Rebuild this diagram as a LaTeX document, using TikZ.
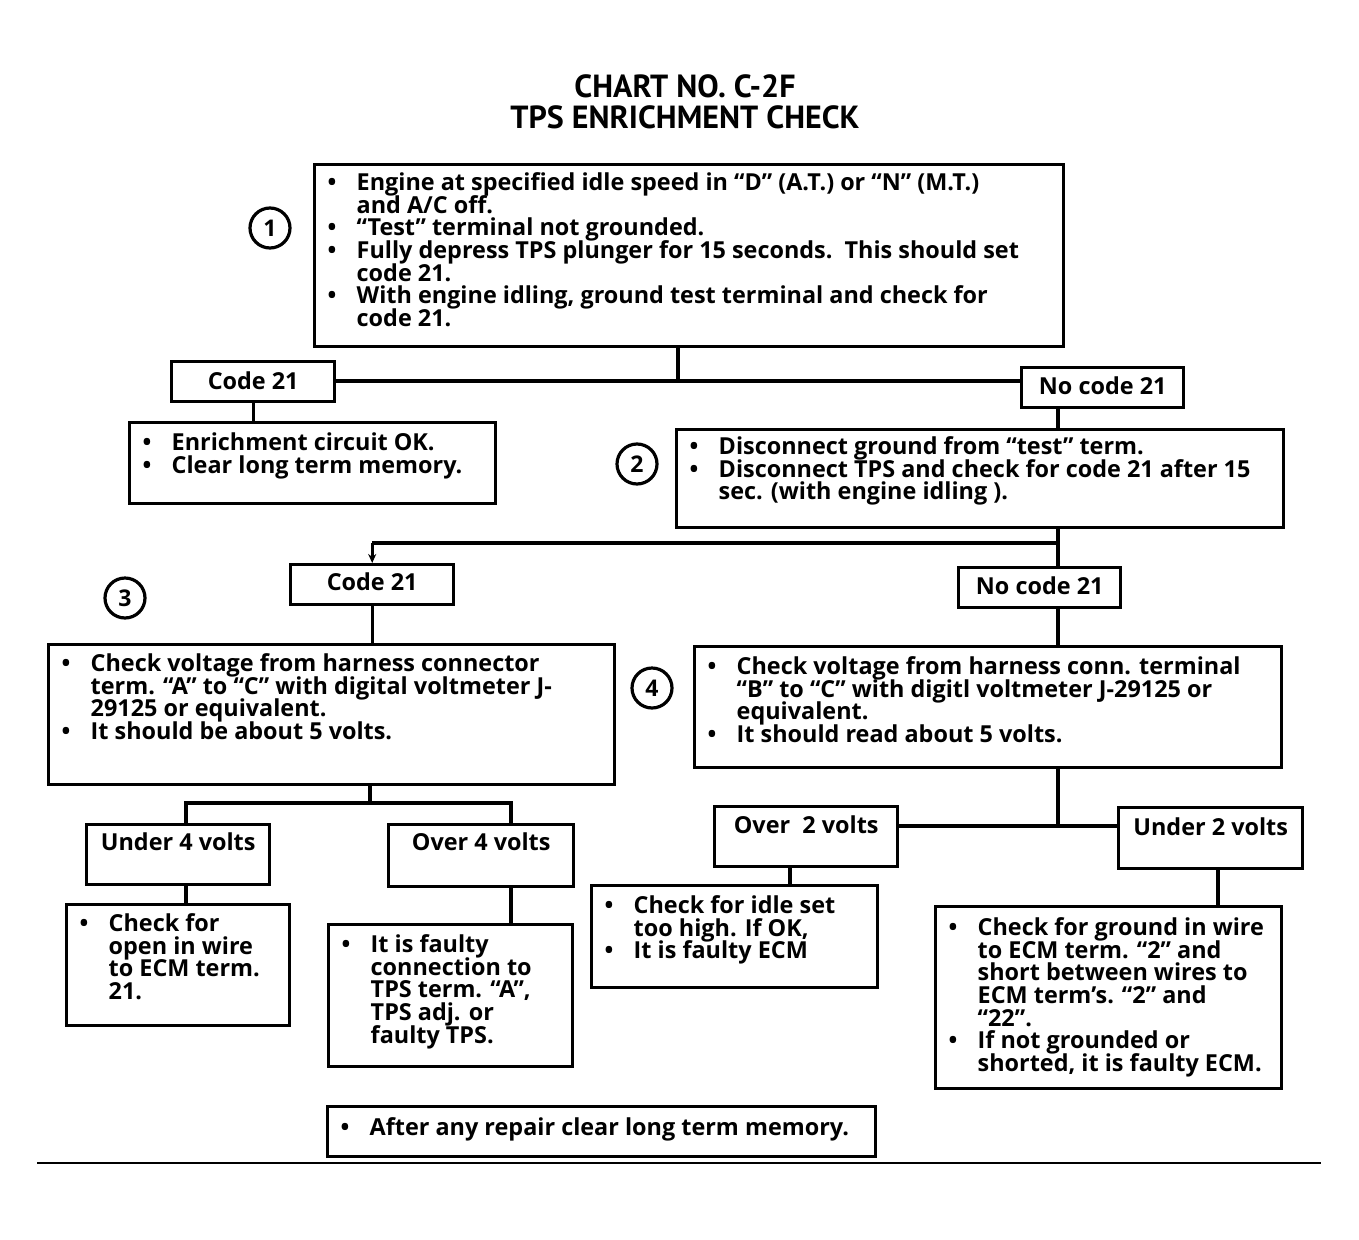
\documentclass[tikz,border=0pt]{standalone}
\usepackage{fontspec}
\setmainfont{Open Sans}
\newfontfamily\titlefont{PT Sans}
\usetikzlibrary{arrows.meta}
\newcommand{\bodyfont}{\bfseries\fontsize{23.4}{22.6}\selectfont\lineskiplimit=-50pt\lineskip=0pt}
\newcommand{\itm}[1]{\par\noindent\hangindent=42pt\hangafter=1\makebox[42pt][l]{\hspace{13pt}\rule{0pt}{18pt}\textbullet}#1}
\newcommand{\bxc}[4]{\parbox[c][#2pt][t]{#1pt}{\vspace*{#3pt}\hbox to #1pt{\vtop{\hsize=1500pt\bodyfont\raggedright\parindent=0pt #4\par}\hss}}}
\newcommand{\lbl}[4]{\parbox[c][#2pt][t]{#1pt}{\vspace*{#3pt}\centering\bodyfont\rule{0pt}{18pt}#4\par}}
\begin{document}
\begin{tikzpicture}[x=1pt,y=-1pt,
  box/.style={draw,line width=3.4pt,inner sep=0pt,anchor=north west},
  num/.style={draw,circle,line width=3.2pt,minimum size=40pt,inner sep=0pt,font=\bfseries\fontsize{23}{23}\selectfont},
  wire/.style={line width=3.2pt},
  tip/.style={-{Stealth[length=9pt,width=8pt]}}]
\fill[white] (0,0) rectangle (1359,1239);
\useasboundingbox (0,0) rectangle (1359,1239);

\node[font=\titlefont\bfseries\fontsize{32}{31}\selectfont,align=center] (title) at (685,102) {CHART NO. C-2F\\TPS ENRICHMENT CHECK};

\node[box] (b1) at (313,163) {\bxc{749}{182}{8}{%
\itm{Engine at specified idle speed in “D” (A.T.) or “N” (M.T.)\newline and A/C off.}
\itm{“Test” terminal not grounded.}
\itm{Fully depress TPS plunger for 15 seconds.\ \ This should set\newline code 21.}
\itm{With engine idling, ground test terminal and check for\newline code 21.}}};
\node[num] (n1) at (270,228) {1};

\node[box] (c21a) at (170,360) {\lbl{163}{40}{10}{Code 21}};
\node[box] (nc21a) at (1020,366) {\lbl{162}{40}{9}{No code 21}};
\node[box] (enr) at (128,421) {\bxc{366}{81}{10}{%
\itm{Enrichment circuit OK.}
\itm{Clear long term memory.}}};
\node[box] (b2) at (675,428) {\bxc{607}{98}{7}{%
\itm{Disconnect ground from “test” term.}
\itm{Disconnect TPS and check for code 21 after 15\newline sec. (with engine idling ).}}};
\node[num] (n2) at (637,464) {2};

\node[box] (c21b) at (289,563) {\lbl{163}{40}{8}{Code 21}};
\node[box] (nc21b) at (957,566) {\lbl{162}{40}{9}{No code 21}};
\node[num] (n3) at (125,598) {3};
\node[box] (b3) at (47,643) {\bxc{566}{140}{9}{%
\itm{Check voltage from harness connector\newline term. “A” to “C” with digital voltmeter J-\newline 29125 or equivalent.}
\itm{It should be about 5 volts.}}};
\node[box] (b4) at (693,645) {\bxc{587}{121}{10}{%
\itm{Check voltage from harness conn. terminal\newline “B” to “C” with digitl voltmeter J-29125 or\newline equivalent.}
\itm{It should read about 5 volts.}}};
\node[num] (n4) at (652,688) {4};

\node[box] (u4) at (85,823) {\lbl{183}{60}{8}{Under 4 volts}};
\node[box] (o4) at (387,823) {\lbl{185}{62}{8}{Over 4 volts}};
\node[box] (o2) at (713,805) {\lbl{183}{60}{9}{Over\ \ 2 volts}};
\node[box] (u2) at (1117,806) {\lbl{184}{61}{10}{Under 2 volts}};

\node[box] (chk) at (65,903) {\bxc{223}{121}{9}{%
\itm{Check for\newline open in wire\newline to ECM term.\newline 21.}}};
\node[box] (flt) at (327,923) {\bxc{244}{142}{10}{%
\itm{It is faulty\newline connection to\newline TPS term. “A”,\newline TPS adj. or\newline faulty TPS.}}};
\node[box] (idl) at (590,884) {\bxc{286}{102}{10}{%
\itm{Check for idle set\newline too high. If OK,}
\itm{It is faulty ECM}}};
\node[box] (ecm) at (934,905) {\bxc{346}{182}{11}{%
\itm{Check for ground in wire\newline to ECM term. “2” and\newline short between wires to\newline ECM term’s. “2” and\newline “22”.}
\itm{If not grounded or\newline shorted, it is faulty ECM.}}};
\node[box] (fin) at (326,1105) {\bxc{548}{50}{11}{%
\itm{After any repair clear long term memory.}}};

% connectors
\coordinate (j1) at (678,381);
\draw[wire] (b1.south -| j1) -- (j1);
\draw[wire] (c21a.east |- j1) -- (nc21a.west |- j1);
\draw[wire] (c21a.south) -- (c21a.south |- enr.north);
\coordinate (j2) at (1058,543);
\draw[wire] (nc21a.south -| j2) -- (b2.north -| j2);
\draw[wire] (b2.south -| j2) -- (j2) -- (j2 -| c21b);
\draw[wire,tip] (j2 -| c21b) -- (c21b.north);
\draw[wire] (j2) -- (nc21b.north -| j2);
\draw[wire] (nc21b.south -| j2) -- (b4.north -| j2);
\draw[wire] (c21b.south) -- (c21b.south |- b3.north);
\coordinate (j3) at (370,803);
\coordinate (j3l) at (186,803);
\coordinate (j3r) at (511,803);
\draw[wire] (b3.south -| j3) -- (j3);
\draw[wire] (u4.north -| j3l) -- (j3l) -- (j3r) -- (o4.north -| j3r);
\draw[wire] (u4.south -| j3l) -- (chk.north -| j3l);
\draw[wire] (o4.south -| j3r) -- (flt.north -| j3r);
\coordinate (j4) at (1058,826);
\draw[wire] (b4.south -| j4) -- (j4);
\draw[wire] (o2.east |- j4) -- (u2.west |- j4);
\coordinate (x2l) at (790,875);
\coordinate (x2r) at (1218,885);
\draw[wire] (o2.south -| x2l) -- (idl.north -| x2l);
\draw[wire] (u2.south -| x2r) -- (ecm.north -| x2r);
\draw[line width=1.5pt] (37,1163) -- (1321,1163);
\end{tikzpicture}
\end{document}
